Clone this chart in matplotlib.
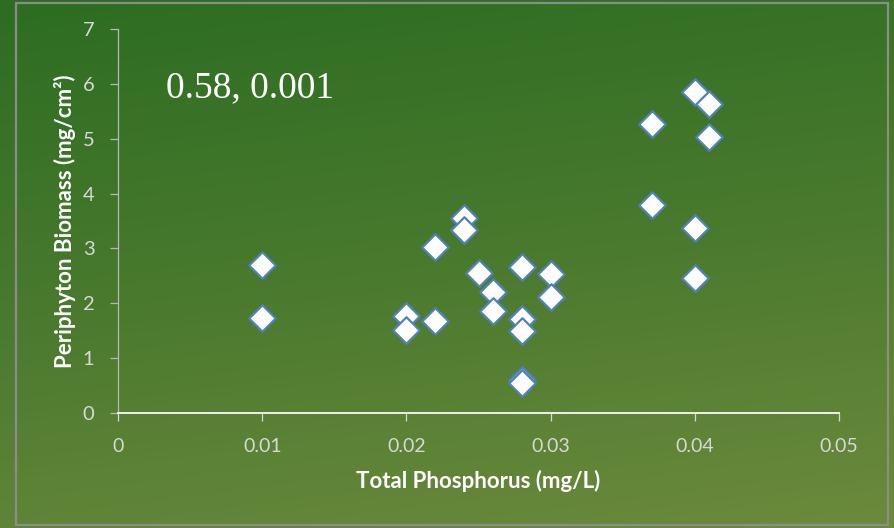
import numpy as np
import matplotlib
matplotlib.use("Agg")
import matplotlib.pyplot as plt
from matplotlib.colors import LinearSegmentedColormap
from matplotlib.patches import Rectangle

# data
tp = [0.010, 0.010, 0.020, 0.020, 0.022, 0.022, 0.024, 0.024, 0.025,
      0.026, 0.026, 0.028, 0.028, 0.028, 0.028, 0.028, 0.030, 0.030,
      0.037, 0.037, 0.040, 0.040, 0.040, 0.041, 0.041]
biomass = [2.70, 1.73, 1.76, 1.52, 3.03, 1.68, 3.56, 3.33, 2.56,
           2.21, 1.86, 2.67, 1.71, 1.49, 0.60, 0.54, 2.53, 2.12,
           5.26, 3.80, 5.86, 3.38, 2.47, 5.64, 5.03]
x_ticks = [0, 0.01, 0.02, 0.03, 0.04, 0.05]
x_tick_labels = ["0", "0.01", "0.02", "0.03", "0.04", "0.05"]
y_ticks = [0, 1, 2, 3, 4, 5, 6, 7]
annotation = "0.58, 0.001"
x_label = "Total Phosphorus (mg/L)"
y_label = "Periphyton Biomass (mg/cm\u00b2)"

W, H = 895, 528
fig = plt.figure(figsize=(W / 100, H / 100), dpi=100)

# background gradient
bg = fig.add_axes([0, 0, 1, 1], zorder=-10)
bg.set_axis_off()
yy, xx = np.mgrid[0:1:200j, 0:1:300j]
t = 0.82 * yy + 0.18 * xx
cmap = LinearSegmentedColormap.from_list("g", ["#2c6d22", "#4a7a2e", "#6c8a3c"])
bg.imshow(t, cmap=cmap, aspect="auto", extent=[0, 1, 0, 1], origin="upper",
          interpolation="bicubic")
bg.set_xlim(0, 1)
bg.set_ylim(0, 1)

# frame
fig.patches.append(Rectangle((16 / W, 1 - 525 / H), (888 - 16) / W, (525 - 3) / H,
                             transform=fig.transFigure, fill=False,
                             edgecolor="#8c8c8c", linewidth=1.6, zorder=5))

ax = fig.add_axes([118 / W, 1 - 413 / H, (839 - 118) / W, (413 - 29) / H])
ax.patch.set_alpha(0)
ax.scatter(tp, biomass, marker="D", s=13.5 ** 2, facecolor="white",
           edgecolor="#4f81bd", linewidth=1.6, zorder=3, clip_on=False)

ax.set_xlim(0, 0.05)
ax.set_ylim(0, 7)
ax.set_xticks(x_ticks)
ax.set_xticklabels(x_tick_labels)
ax.set_yticks(y_ticks)

for s in ["top", "right"]:
    ax.spines[s].set_visible(False)
ax.spines["left"].set_color("#b8b8b8")
ax.spines["left"].set_linewidth(0.9)
ax.spines["bottom"].set_color("#f0f0f0")
ax.spines["bottom"].set_linewidth(1.4)

ax.tick_params(axis="y", direction="out", length=6, width=0.9, color="#b8b8b8",
               pad=11, labelsize=14.5, labelcolor="#d8d8d8")
ax.tick_params(axis="x", direction="out", length=6, width=0.9, color="#d8d8d8",
               pad=12, labelsize=14, labelcolor="#d8d8d8")
for lab in ax.get_yticklabels() + ax.get_xticklabels():
    lab.set_fontfamily(["Lato", "DejaVu Sans"])

ax.set_xlabel(x_label, fontfamily="Lato", fontweight="bold", fontsize=16,
              color="white", labelpad=11)
ax.set_ylabel(y_label, fontfamily="Lato", fontweight="bold", fontsize=16,
              color="white", labelpad=5)

ax.text(0.0033, 5.93, annotation, fontfamily="Liberation Serif", fontsize=27,
        color="white", va="center", ha="left")

fig.savefig("out.png", dpi=100)
